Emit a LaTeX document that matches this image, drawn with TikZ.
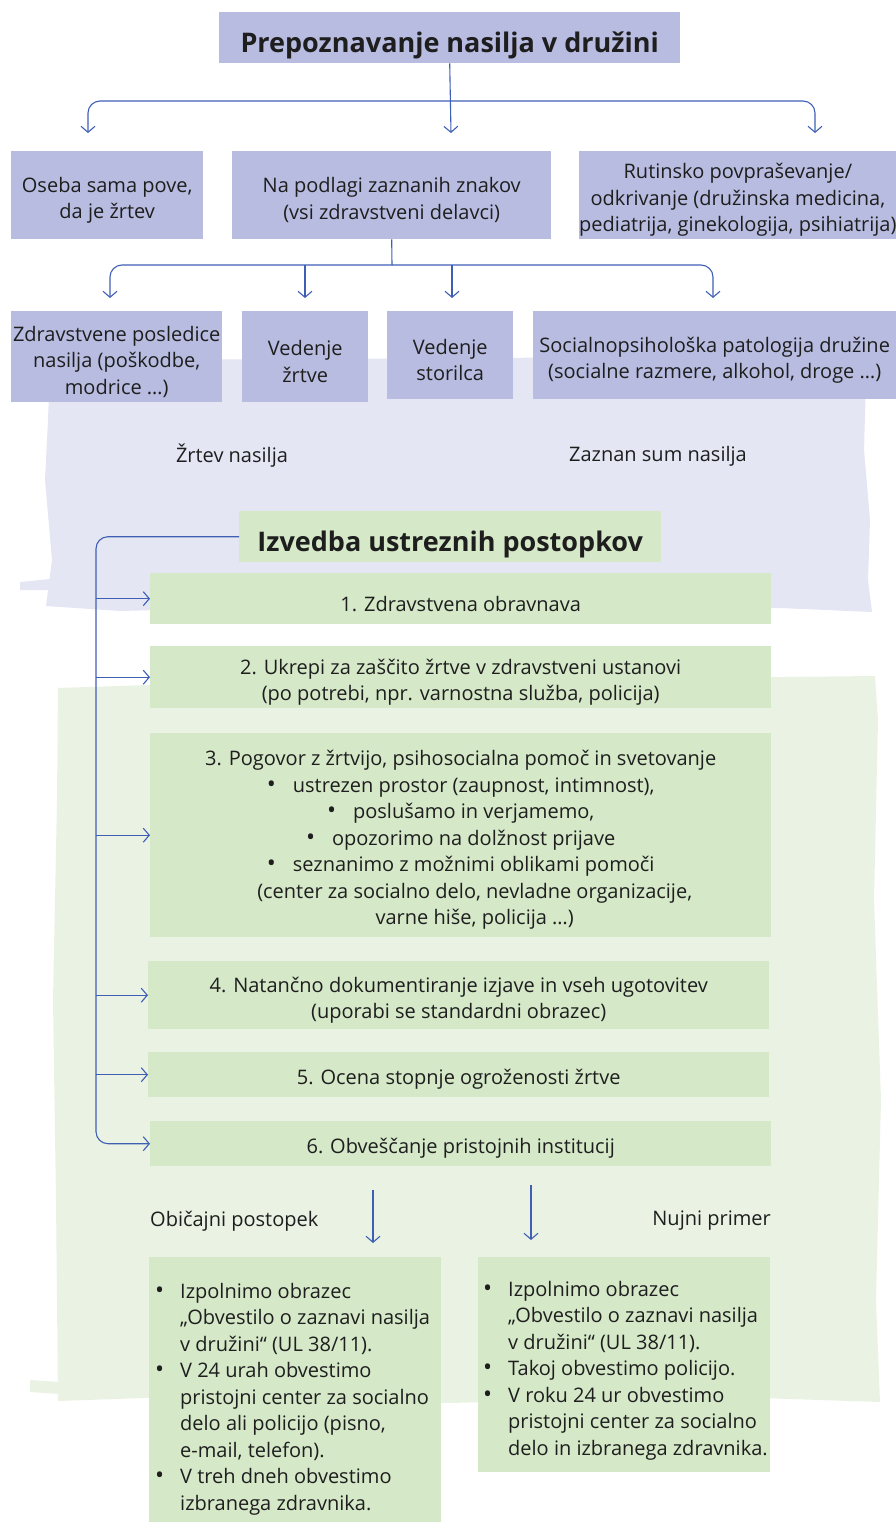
\documentclass[tikz,border=0pt]{standalone}
\usepackage{fontspec}
\setmainfont{Open Sans}
\usetikzlibrary{arrows.meta}
\definecolor{lav}{HTML}{B8BCE0}
\definecolor{lavbg}{HTML}{E4E6F4}
\definecolor{grn}{HTML}{D5E8C8}
\definecolor{grnbg}{HTML}{E9F2E3}
\definecolor{conn}{HTML}{3F5FB5}
\definecolor{ink}{HTML}{1E1E1E}
\newcommand\bul{{\fontsize{24}{24}\selectfont\textbullet}}
\newcommand\bl{\hspace*{6pt}\makebox[25pt][l]{\bul}}
\newcommand\ind{\hspace*{31pt}}
\newcommand\st{\rule{0pt}{25pt}}
\newcommand\stt{\rule{0pt}{26pt}}
\begin{document}
\begin{tikzpicture}[x=1pt,y=-1pt,
  lift/.style={execute at begin node={\rule{0pt}{#1}}},
  base/.style={inner sep=0pt, align=center, anchor=north west, text=ink,
    font=\fontsize{20}{26.5}\selectfont, lift=25pt},
  lbox/.style={base, fill=lav},
  gbox/.style={base, fill=grn},
  head/.style={font=\fontsize{27}{30}\selectfont\bfseries, lift=37pt},
  lbl/.style={inner sep=0pt, text=ink, font=\fontsize{20}{26.5}\selectfont},
  list/.style={inner sep=0pt, align=left, anchor=north west, text=ink,
    font=\fontsize{20}{26.5}\selectfont},
  arr/.style={draw=conn, line width=1.1pt, -{Straight Barb[length=6pt,width=14pt]}},
  ln/.style={draw=conn, line width=1.1pt}]
\useasboundingbox (0,0) rectangle (896,1523);
% background brush areas
\fill[lavbg] (50,368) -- (120,360) -- (500,358) -- (860,354) -- (866,380) -- (864,450)
  -- (870,520) -- (868,580) -- (872,612) -- (780,608) -- (600,613) -- (300,606)
  -- (120,611) -- (46,606) -- (52,560) -- (45,480) -- (48,420) -- cycle;
\fill[lavbg] (20,582) -- (60,578) -- (60,590) -- (20,590) -- cycle;
\fill[grnbg] (58,688) -- (300,680) -- (600,679) -- (875,676) -- (878,720) -- (874,900)
  -- (881,1100) -- (876,1300) -- (880,1402) -- (700,1396) -- (450,1403) -- (200,1396)
  -- (58,1401) -- (56,1200) -- (53,1000) -- (57,800) -- cycle;
\fill[grnbg] (30,1380) -- (60,1382) -- (60,1394) -- (30,1392) -- cycle;

% top level
\node[lbox, head, minimum width=461pt, minimum height=51pt] (title) at (219,12) {Prepoznavanje nasilja v družini};
\node[lbox, minimum width=192pt, minimum height=88pt] (a1) at (11,151) {\st Oseba sama pove,\\da je žrtev};
\node[lbox, minimum width=319pt, minimum height=88pt] (a2) at (232,151) {\st Na podlagi zaznanih znakov\\(vsi zdravstveni delavci)};
\node[lbox, minimum width=317pt, minimum height=88pt] (a3) at (579,151) {\st Rutinsko povpraševanje/\\odkrivanje (družinska medicina,\\pediatrija, ginekologija, psihiatrija)};

\coordinate (j1) at (451,101);
\coordinate (t1) at (88,133);
\coordinate (t2) at (451,133);
\coordinate (t3) at (815,133);
\draw[arr] (title.south) -- (t2);
\draw[arr, rounded corners=12pt] (j1) -| (t1);
\draw[arr, rounded corners=12pt] (j1) -| (t3);

% second level
\node[lbox, minimum width=211pt, minimum height=91pt] (b1) at (11,311) {\st Zdravstvene posledice\\nasilja (poškodbe,\\modrice …)};
\node[lbox, minimum width=126pt, minimum height=91pt] (b2) at (242,311) {\st Vedenje\\žrtve};
\node[lbox, minimum width=126pt, minimum height=88pt] (b3) at (387,311) {\st Vedenje\\storilca};
\node[lbox, minimum width=363pt, minimum height=88pt] (b4) at (533,311) {\st Socialnopsihološka patologija družine\\(socialne razmere, alkohol, droge …)};

\coordinate (j2) at (392,265);
\coordinate (u1) at (110,298);
\coordinate (u2) at (305,298);
\coordinate (u3) at (452,298);
\coordinate (u4) at (713,298);
\draw[ln] (a2.south) -- (j2);
\draw[arr, rounded corners=12pt] (j2) -| (u1);
\draw[arr, rounded corners=12pt] (j2) -| (u4);
\draw[arr] (u2 |- j2) -- (u2);
\draw[arr] (u3 |- j2) -- (u3);

\node[lbl] (zn) at (232,456) {Žrtev nasilja};
\node[lbl] (zs) at (658,456) {Zaznan sum nasilja};

% procedures
\node[gbox, head, minimum width=422pt, minimum height=51pt] (iz) at (239,511) {Izvedba ustreznih postopkov};
\node[gbox, minimum width=621pt, minimum height=51pt] (s1) at (150,573) {1. Zdravstvena obravnava};
\node[gbox, minimum width=621pt, minimum height=62pt] (s2) at (150,646) {\st 2. Ukrepi za zaščito žrtve v zdravstveni ustanovi\\(po potrebi, npr. varnostna služba, policija)};
\node[gbox, minimum width=621pt, minimum height=204pt] (s3) at (150,733) {\st 3. Pogovor z žrtvijo, psihosocialna pomoč in svetovanje\\
  \bul\hspace{17pt}ustrezen prostor (zaupnost, intimnost),\\
  \bul\hspace{17pt}poslušamo in verjamemo,\\
  \bul\hspace{17pt}opozorimo na dolžnost prijave\\
  \bul\hspace{17pt}seznanimo z možnimi oblikami pomoči\\
  \hspace{28pt}(center za socialno delo, nevladne organizacije,\\
  \hspace{28pt}varne hiše, policija …)};
\node[gbox, minimum width=621pt, minimum height=68pt] (s4) at (148,961) {\st 4. Natančno dokumentiranje izjave in vseh ugotovitev\\(uporabi se standardni obrazec)};
\node[gbox, minimum width=621pt, minimum height=45pt] (s5) at (148,1052) {5. Ocena stopnje ogroženosti žrtve};
\node[gbox, minimum width=621pt, minimum height=45pt] (s6) at (150,1121) {6. Obveščanje pristojnih institucij};

\coordinate (sp) at (96,600);
\draw[arr, rounded corners=12pt] (iz.west) -- (sp |- iz.west) -- (sp |- s6.west) -- (s6.west);
\draw[arr] (sp |- s1.west) -- (s1.west);
\draw[arr] (sp |- s2.west) -- (s2.west);
\draw[arr] (sp |- s3.west) -- (s3.west);
\draw[arr] (sp |- s4.west) -- (s4.west);
\draw[arr] (sp |- s5.west) -- (s5.west);

% final branches
\coordinate (d1s) at (373,1190);
\coordinate (d1e) at (373,1243);
\coordinate (d2s) at (531,1185);
\coordinate (d2e) at (531,1240);
\draw[arr] (d1s) -- (d1e);
\draw[arr] (d2s) -- (d2e);
\node[lbl, anchor=west] (op) at (150,1221) {Običajni postopek};
\node[lbl, anchor=east] (np) at (771,1221) {Nujni primer};

\node[gbox, minimum width=292pt, minimum height=265pt] (f1) at (149,1257) {};
\node[gbox, minimum width=292pt, minimum height=215pt] (f2) at (478,1257) {};
\node[list] (f1t) at (149,1272) {%
  \stt\bl Izpolnimo obrazec\\
  \ind „Obvestilo o zaznavi nasilja\\
  \ind v družini“ (UL 38/11).\\
  \bl V 24 urah obvestimo\\
  \ind pristojni center za socialno\\
  \ind delo ali policijo (pisno,\\
  \ind e-mail, telefon).\\
  \bl V treh dneh obvestimo\\
  \ind izbranega zdravnika.};
\node[list] (f2t) at (477,1270) {%
  \stt\bl Izpolnimo obrazec\\
  \ind „Obvestilo o zaznavi nasilja\\
  \ind v družini“ (UL 38/11).\\
  \bl Takoj obvestimo policijo.\\
  \bl V roku 24 ur obvestimo\\
  \ind pristojni center za socialno\\
  \ind delo in izbranega zdravnika.};
\end{tikzpicture}
\end{document}
